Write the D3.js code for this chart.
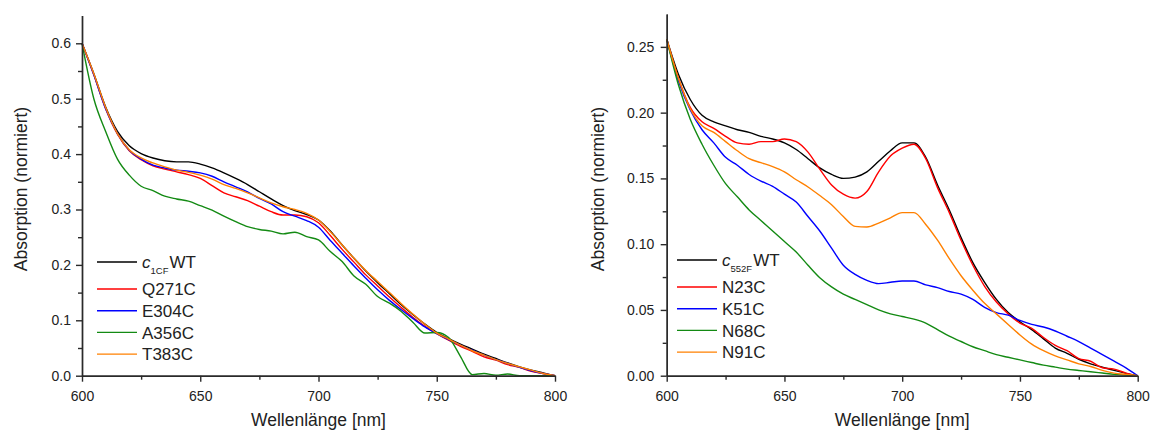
<!DOCTYPE html>
<html lang="de">
<head>
<meta charset="UTF-8">
<title>Absorptionsspektren</title>
<script src="https://d3js.org/d3.v7.min.js"></script>
<style>
  body { margin: 0; background: #fff; }
  svg { display: block; font-family: "Liberation Sans", Arial, sans-serif; }
  .axis path, .axis line { stroke: #2a2a2a; stroke-width: 1.4px; }
  .axis text { font-size: 14px; fill: #222; font-family: "Liberation Sans", Arial, sans-serif; }
  .title { font-size: 17.5px; fill: #222; }
  .legend text { font-size: 17px; fill: #222; }
</style>
</head>
<body>
<svg width="1150" height="432"></svg>
<script>
// shared wavelength grid (nm)
const wavelengths = [600, 605, 610, 615, 620, 625, 630, 635, 640, 645, 650, 655, 660, 665, 670, 675, 680, 685, 690, 695,
                     700, 705, 710, 715, 720, 725, 730, 735, 740, 745, 750, 755, 760, 765, 770, 775, 780, 785, 790, 795, 800];

// left panel (c1CF)
const leftLabels = ["WT", "Q271C", "E304C", "A356C", "T383C"];
const c1cfWT  = [.600, .545, .485, .441, .415, .401, .393, .388, .386, .386, .382, .375, .366, .356, .345, .332, .319, .307, .298, .291,
                 .281, .261, .236, .212, .189, .168, .148, .128, .110, .093, .078, .067, .057, .048, .039, .031, .023, .016, .010, .005, .000];
const q271c   = [.600, .543, .482, .436, .406, .390, .379, .373, .368, .363, .356, .343, .330, .323, .316, .306, .296, .290, .290, .287,
                 .276, .253, .228, .205, .182, .162, .142, .123, .105, .089, .076, .064, .053, .044, .034, .028, .020, .015, .008, .004, .000];
const e304c   = [.600, .543, .482, .437, .407, .391, .380, .375, .371, .369, .366, .360, .350, .341, .332, .320, .310, .296, .288, .280,
                 .268, .244, .221, .198, .176, .155, .136, .119, .103, .088, .076, .065, .055, .046, .037, .029, .022, .015, .009, .004, .000];
const a356c   = [.600, .500, .441, .391, .362, .342, .334, .324, .319, .315, .307, .299, .288, .278, .269, .264, .261, .256, .259, .251,
                 .245, .224, .206, .180, .165, .143, .131, .116, .096, .077, .078, .069, .035, .002, .004, .001, .003, .000, .000, .000, .000];
const t383c   = [.600, .545, .484, .437, .408, .393, .384, .377, .371, .367, .362, .355, .345, .338, .330, .321, .312, .305, .300, .293,
                 .281, .260, .236, .212, .190, .170, .150, .130, .111, .093, .077, .066, .055, .045, .037, .029, .022, .016, .010, .004, .000];

// right panel (c552F)
const rightLabels = ["WT", "N23C", "K51C", "N68C", "N91C"];
const c552fWT = [.256, .229, .210, .198, .193, .190, .187, .185, .182, .180, .177, .172, .165, .158, .153, .150, .151, .155, .163, .171,
                 .177, .177, .166, .145, .126, .105, .086, .071, .058, .048, .041, .035, .028, .021, .017, .0125, .009, .0065, .004, .0018, 0];
const n23c    = [.256, .226, .204, .193, .188, .182, .177, .176, .178, .178, .180, .178, .170, .157, .145, .138, .135, .140, .155, .167,
                 .173, .176, .165, .143, .124, .103, .084, .068, .056, .047, .040, .036, .029, .023, .019, .013, .011, .006, .005, .002, 0];
const k51c    = [.256, .224, .202, .187, .177, .166, .160, .153, .148, .144, .138, .132, .121, .110, .097, .084, .077, .0725, .070, .071,
                 .072, .072, .069, .067, .064, .062, .058, .052, .048, .046, .042, .039, .037, .034, .030, .026, .021, .016, .011, .006, 0];
const n68c    = [.256, .221, .195, .176, .160, .146, .136, .126, .118, .110, .102, .094, .084, .0745, .0675, .062, .058, .054, .050, .047,
                 .045, .043, .040, .035, .030, .026, .022, .019, .016, .014, .012, .010, .008, .0065, .005, .004, .003, .002, .001, .0005, 0];
const n91c    = [.256, .226, .203, .190, .185, .178, .171, .165, .162, .159, .155, .149, .1435, .137, .130, .121, .1135, .113, .116, .120,
                 .124, .124, .115, .103, .089, .076, .065, .055, .047, .039, .031, .024, .019, .015, .012, .009, .007, .004, .002, .001, 0];

const xMajor = [600, 650, 700, 750, 800];
const xMinor = [625, 675, 725, 775];
const leftYMajor = [0, 0.1, 0.2, 0.3, 0.4, 0.5, 0.6];
const leftYMinor = [0.05, 0.15, 0.25, 0.35, 0.45, 0.55];
const rightYMajor = [0, 0.05, 0.10, 0.15, 0.20, 0.25];
const rightYMinor = [0.025, 0.075, 0.125, 0.175, 0.225];

const colors = ["#000000", "#ff0000", "#0000ff", "#138a13", "#ff8000"];

const svg = d3.select("svg");

function drawPanel(p) {
    const x = d3.scaleLinear().domain([600, 800]).range([p.left, p.right]);
    const y = d3.scaleLinear().domain([0, p.yMax]).range([p.bottom, p.top]);

    const line = d3.line()
        .x((d, i) => x(wavelengths[i]))
        .y(d => y(d))
        .curve(d3.curveMonotoneX);

    const g = svg.append("g");

    // curves
    p.series.forEach((s, i) => {
        g.append("path")
            .datum(s)
            .attr("fill", "none")
            .attr("stroke", colors[i])
            .attr("stroke-width", 1.4)
            .attr("stroke-linejoin", "round")
            .attr("d", line);
    });

    // axes (minor ticks drawn as a second axis without labels)
    g.append("g").attr("class", "axis")
        .attr("transform", "translate(0," + p.bottom + ")")
        .call(d3.axisBottom(x).tickValues(xMinor).tickSize(4).tickSizeOuter(0).tickFormat(""));
    g.append("g").attr("class", "axis")
        .attr("transform", "translate(0," + p.bottom + ")")
        .call(d3.axisBottom(x).tickValues(xMajor).tickSize(6).tickSizeOuter(0).tickPadding(9).tickFormat(d3.format("d")));

    g.append("g").attr("class", "axis")
        .attr("transform", "translate(" + p.left + ",0)")
        .call(d3.axisLeft(y).tickValues(p.yMinor).tickSize(4).tickSizeOuter(0).tickFormat(""));
    g.append("g").attr("class", "axis")
        .attr("transform", "translate(" + p.left + ",0)")
        .call(d3.axisLeft(y).tickValues(p.yMajor).tickSize(6).tickSizeOuter(0).tickPadding(p.yPad).tickFormat(d3.format(p.yFmt)));

    // axis titles
    g.append("text").attr("class", "title")
        .attr("x", (p.left + p.right) / 2).attr("y", 426)
        .attr("text-anchor", "middle")
        .text("Wellenlänge [nm]");
    g.append("text").attr("class", "title")
        .attr("transform", "translate(" + p.yTitleX + ",189) rotate(-90)")
        .attr("text-anchor", "middle")
        .attr("dy", "0.35em")
        .text("Absorption (normiert)");

    // legend
    const lg = g.append("g").attr("class", "legend");
    p.labels.forEach((lab, i) => {
        const ry = i === 0 ? p.legY : p.legY + 27 + (i - 1) * 21.7;
        lg.append("line")
            .attr("x1", p.legX).attr("x2", p.legX + 40)
            .attr("y1", ry).attr("y2", ry)
            .attr("stroke", colors[i]).attr("stroke-width", 1.4);
        const t = lg.append("text")
            .attr("x", p.legX + 45).attr("y", ry).attr("dy", "0.36em");
        if (i === 0) {
            t.append("tspan").style("font-style", "italic").text("c");
            t.append("tspan").attr("dy", "6").style("font-size", "9.5px").text(p.sub);
            t.append("tspan").attr("dy", "-6").attr("dx", "1").text(lab);
        } else {
            t.text(lab);
        }
    });
}

drawPanel({
    left: 82, right: 555, top: 15.6, bottom: 375.7, yMax: 0.65,
    yMajor: leftYMajor, yMinor: leftYMinor, yFmt: ".1f", yPad: 5,
    series: [c1cfWT, q271c, e304c, a356c, t383c],
    labels: leftLabels, sub: "1CF",
    legX: 97, legY: 262, yTitleX: 21
});

drawPanel({
    left: 666.7, right: 1137.7, top: 14, bottom: 375.7, yMax: 0.275,
    yMajor: rightYMajor, yMinor: rightYMinor, yFmt: ".2f", yPad: 6.5,
    series: [c552fWT, n23c, k51c, n68c, n91c],
    labels: rightLabels, sub: "552F",
    legX: 677, legY: 260, yTitleX: 598
});
</script>
</body>
</html>
